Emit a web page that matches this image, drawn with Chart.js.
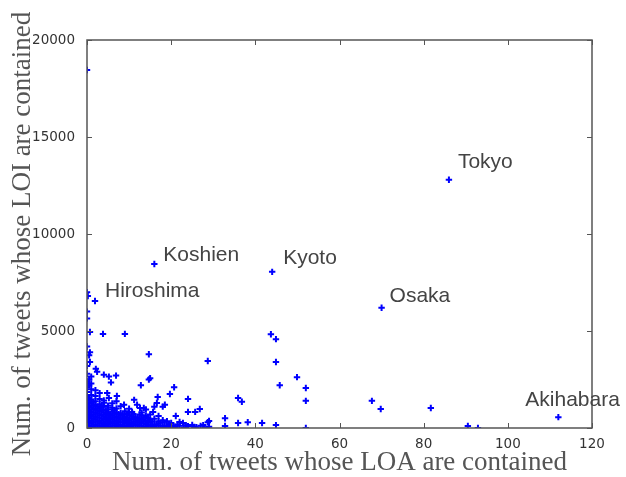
<!DOCTYPE html>
<html>
<head>
<meta charset="utf-8">
<script src="https://cdn.jsdelivr.net/npm/chart.js@4"></script>
<style>
  html, body { margin: 0; padding: 0; background: #fff; }
  #wrap { width: 626px; height: 477px; }
</style>
</head>
<body>
<div id="wrap"><canvas id="scatterChart" width="626" height="477"></canvas></div>
<script>
// Named places (x = tweets whose LOA contained, y = tweets whose LOI contained)
const cityNames = ["Tokyo", "Koshien", "Kyoto", "Hiroshima", "Osaka", "Akihabara"];
const cityLOA = [86, 16, 44, 1.9, 70, 112];
const cityLOI = [12800, 8450, 8050, 6550, 6200, 560];

// Remaining places, [LOA, LOI]
const otherPoints = [
    // bottom row
    [0,0],[1,20],[2,10],[3,40],[4,0],[5,30],[6,10],[7,50],[8,0],[9,20],[10,60],[11,10],[12,30],[13,0],
    [14,40],[15,20],[16,60],[17,10],[18,30],[19,80],[20,20],[21,50],[22,120],[23,30],[24,90],[25,160],
    [26,40],[27,110],[28,20],[29,70],
    // ~100
    [0.5,110],[1.5,90],[2.5,130],[3.5,100],[4.5,120],[5.5,80],[6.5,140],[7.5,110],[8.5,90],[9.5,130],
    [10.5,100],[11.5,150],[12.5,120],[13.5,90],[14.5,140],[15.5,110],[16.5,160],[17.5,120],[18.5,90],
    [19.5,150],[20.5,110],[21.5,180],[23.5,140],[25.5,60],
    // ~200
    [0,200],[1,230],[2,180],[3,250],[4,210],[5,190],[6,240],[7,220],[8,170],[9,260],[10,200],[11,230],
    [12,190],[13,250],[14,210],[15,280],[16,180],[17,240],[18,300],[20,260],[22,310],[22.8,260],[27.6,150],
    // ~300
    [0.5,310],[1.5,290],[2.5,330],[3.5,300],[4.5,320],[5.5,280],[6.5,340],[7.5,310],[8.5,290],[9.5,330],
    [10.5,300],[11.5,320],[12.5,290],[13.5,340],[14.5,300],[15.5,330],[17,350],
    // ~400
    [0,400],[1,380],[2,430],[3,390],[4,420],[5,370],[6,450],[7,400],[8,430],[9,380],[10,410],[11,460],
    [12,390],[13,440],[14,370],[15,420],[16,480],[18,400],[19,350],
    // ~500
    [0.5,510],[1.5,490],[2.5,530],[3.5,500],[4.5,520],[5.5,480],[6.5,540],[7.5,510],[8.5,490],[9.5,530],
    [10.5,500],[11.5,520],[12.5,480],[13.5,540],[14.5,510],
    // ~600
    [0,600],[1,620],[2,580],[3,650],[4,610],[5,560],[6,640],[7,590],[8,630],[9,570],[10,660],[11,600],
    [12,550],[13,640],[14,620],[15,700],[17,620],[21.1,620],
    // ~700
    [0.5,710],[1.5,690],[2.5,730],[3.5,700],[4.5,720],[5.5,680],[6.5,740],[7.5,710],[8.5,690],[9.5,730],
    [11,720],[12.5,700],
    // ~800
    [0,800],[1,830],[2,780],[3,850],[4,810],[5,770],[6,840],[7,800],[8,760],[9,860],[10,820],[10.7,830],
    [13,800],[15.7,830],[16,1100],[18,1100],
    // ~1000
    [0,1000],[1,1050],[2,980],[3,1030],[4,1090],[5,960],[6,1040],[7,1010],[8,1120],[10,990],[12.6,1030],
    [13.5,1030],[14,950],[0.5,920],[1.5,940],[2.5,900],[3.5,930],[4.5,910],[6.5,920],
    // ~1200
    [0,1200],[1,1260],[2,1180],[3,1230],[4,1300],[5,1150],[6,1270],[8.8,1200],[11.9,1200],
    [0.5,1120],[1.5,1150],[2.5,1100],[3.5,1140],
    // ~1400 and up
    [0,1400],[1,1450],[2,1380],[3,1500],[4,1420],[5.2,1550],[7,1380],[11.2,1450],[0.5,1320],[1.5,1350],
    [0,1600],[1,1700],[2,1650],[3,1800],[4.8,1800],[7.1,1650],[0,1850],[1,2000],[2,1950],[0.5,1550],
    [0,2100],[1,2300],[0.5,2500],[1,2650],[0,2800],[2.4,2900],[2.1,3050],[0,3200],[0,2400],[0.5,2200],
    [0.7,3400],[0.5,3750],[0.7,3900],[0,4200],[0.7,4950],[0,5650],[0,6000],[0.2,6800],[0,7000],
    [0,18450],
    // scattered
    [3.8,4850],[9,4850],[14.7,3800],[28.7,3450],[4,2750],[5.2,2650],[6.9,2700],[5.7,2350],
    [12.8,2200],[14.7,2500],[15,2570],[20.7,2100],[19.7,1750],[16.8,1600],[16.6,1290],[18.5,1200],
    [24,1500],[24,830],[25.7,830],[26.8,980],[35.9,1550],[36.8,1350],[32.8,500],[32.8,100],
    [29,360],[28.7,300],[35.9,260],[38.2,300],[41.6,260],[44.9,150],
    [43.7,4830],[44.9,4580],[44.9,3400],[45.8,2200],[49.9,2620],[52,2060],[52,1400],
    [67.7,1400],[69.8,980],[81.7,1030],[90.5,100],[92.9,0],[52,0]
];

const xTicks = [0, 20, 40, 60, 80, 100, 120];
const yTicks = [0, 5000, 10000, 15000, 20000];

const cityPoints = cityLOA.map((x, i) => ({ x: x, y: cityLOI[i] }));
const restPoints = otherPoints.map(p => ({ x: p[0], y: p[1] }));

// label offsets in pixels from the marker (left edge, vertical middle)
const labelOffsets = {
    Tokyo: [9, -17], Koshien: [9, -9], Kyoto: [11, -14],
    Hiroshima: [10, -10], Osaka: [8, -12], Akihabara: [-33, -17]
};

// matplotlib-like frame with inward ticks and place annotations
const framePlugin = {
    id: "frame",
    afterDatasetsDraw(chart) {
        const ctx = chart.ctx;
        const a = chart.chartArea;
        const xs = chart.scales.x, ys = chart.scales.y;
        ctx.save();
        ctx.strokeStyle = "#555";
        ctx.lineWidth = 1.5;
        ctx.strokeRect(a.left, a.top, a.right - a.left, a.bottom - a.top);
        ctx.lineWidth = 1;
        ctx.beginPath();
        xTicks.forEach(v => {
            const px = Math.round(xs.getPixelForValue(v)) + 0.5;
            ctx.moveTo(px, a.bottom); ctx.lineTo(px, a.bottom - 5);
            ctx.moveTo(px, a.top); ctx.lineTo(px, a.top + 5);
        });
        yTicks.forEach(v => {
            const py = Math.round(ys.getPixelForValue(v)) + 0.5;
            ctx.moveTo(a.left, py); ctx.lineTo(a.left + 5, py);
            ctx.moveTo(a.right, py); ctx.lineTo(a.right - 5, py);
        });
        ctx.stroke();

        ctx.fillStyle = "#444";
        ctx.font = "21px 'Liberation Sans', Arial, sans-serif";
        ctx.textBaseline = "middle";
        ctx.textAlign = "left";
        cityNames.forEach((name, i) => {
            const off = labelOffsets[name];
            const px = xs.getPixelForValue(cityLOA[i]) + off[0];
            const py = ys.getPixelForValue(cityLOI[i]) + off[1];
            ctx.fillText(name, px, py);
        });
        ctx.restore();
    }
};

const tickFont = { family: "'DejaVu Sans', sans-serif", size: 13.5 };
const titleFont = { family: "'Liberation Serif', 'Times New Roman', serif", size: 27 };

const ctx = document.getElementById("scatterChart").getContext("2d");
new Chart(ctx, {
    type: "scatter",
    data: {
        datasets: [{
            data: restPoints.concat(cityPoints),
            pointStyle: "cross",
            pointRadius: 3.2,
            pointBorderWidth: 2,
            borderColor: "#0000ff",
            backgroundColor: "#0000ff"
        }]
    },
    options: {
        responsive: false,
        animation: false,
        layout: { padding: { top: 40, right: 34, left: 0, bottom: 0 } },
        plugins: { legend: { display: false }, tooltip: { enabled: false } },
        scales: {
            x: {
                min: 0, max: 120,
                grid: { display: false },
                border: { display: false },
                afterBuildTicks: s => { s.ticks = xTicks.map(v => ({ value: v })); },
                ticks: { color: "#333", padding: 0, font: tickFont, callback: v => String(v) },
                title: {
                    display: true, text: "Num. of tweets whose LOA are contained", color: "#555",
                    padding: { top: 0, bottom: -2 },
                    font: titleFont
                },
                afterFit: s => { s.height = 49; }
            },
            y: {
                min: 0, max: 20000,
                grid: { display: false },
                border: { display: false },
                afterBuildTicks: s => { s.ticks = yTicks.map(v => ({ value: v })); },
                ticks: { color: "#333", padding: 4, font: tickFont, callback: v => String(v) },
                title: {
                    display: true, text: "Num. of tweets whose LOI are contained", color: "#555",
                    padding: { top: 7, bottom: 0 },
                    font: titleFont
                },
                afterFit: s => { s.width = 87; }
            }
        }
    },
    plugins: [framePlugin]
});
</script>
</body>
</html>
